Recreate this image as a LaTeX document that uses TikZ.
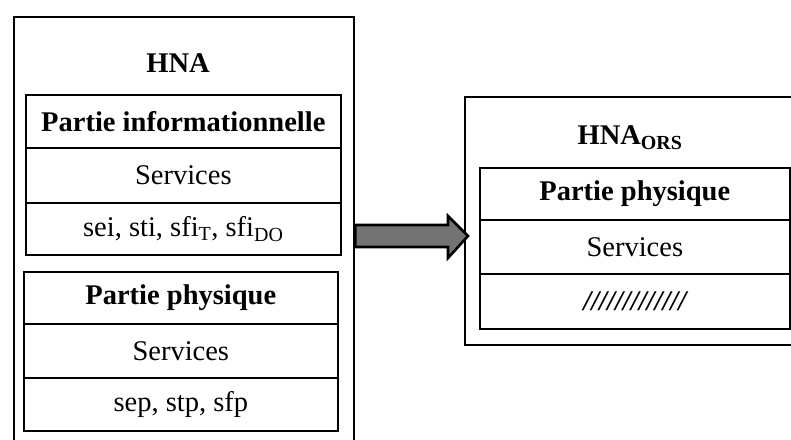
\documentclass[tikz,border=0pt]{standalone}
\usepackage{fontspec}
\setmainfont{Liberation Serif}
\begin{document}
\begin{tikzpicture}[x=1pt,y=-1pt,
  outerbox/.style={draw=black, line width=2.4pt, inner sep=0pt},
  rowbox/.style={draw=black, line width=1.6pt, inner sep=0pt, anchor=north west},
  lbl/.style={inner sep=0pt, font=\fontsize{28.5}{32}\selectfont},
  blbl/.style={lbl, font=\fontsize{28.5}{32}\selectfont\bfseries},
  bigarrow/.style={draw=black, line width=2.6pt, fill=black!55, line join=miter}]
\useasboundingbox (0,0) rectangle (791,439);
\fill[white] (0,0) rectangle (791,439);
% left outer box
\node[outerbox, minimum width=340pt, minimum height=430pt, anchor=north west] (lo) at (13,16) {};
\node[blbl] (hna) at (178,63) {HNA};
% informational part
\node[rowbox, minimum width=315pt, minimum height=53pt] (i1) at (25,94) {};
\node[rowbox, minimum width=315pt, minimum height=55pt] (i2) at (25,147) {};
\node[rowbox, minimum width=315pt, minimum height=52pt] (i3) at (25,202) {};
\node[blbl] at (i1.center) {Partie informationnelle};
\node[lbl] at (i2.center) {Services};
\node[lbl] at (i3.center) {sei, sti, sfi\textsubscript{T}, sfi\textsubscript{DO}};
% physical part
\node[rowbox, minimum width=314pt, minimum height=52pt] (p1) at (23,271) {};
\node[rowbox, minimum width=314pt, minimum height=54pt] (p2) at (23,323) {};
\node[rowbox, minimum width=314pt, minimum height=53pt] (p3) at (23,377) {};
\node[blbl] at (p1.center) {Partie physique};
\node[lbl] at (p2.center) {Services};
\node[lbl] at (p3.center) {sep, stp, sfp};
% right outer box
\node[outerbox, minimum width=340pt, minimum height=248pt, anchor=north west] (ro) at (464,96) {};
\node[blbl] (hnaors) at (630,138) {HNA\textsubscript{ORS}};
\node[rowbox, minimum width=310pt, minimum height=52pt] (r1) at (479,167) {};
\node[rowbox, minimum width=310pt, minimum height=54pt] (r2) at (479,219) {};
\node[rowbox, minimum width=310pt, minimum height=55pt] (r3) at (479,273) {};
\node[blbl] at (r1.center) {Partie physique};
\node[lbl] at (r2.center) {Services};
\node[lbl, font=\fontsize{28.5}{32}\selectfont\bfseries\itshape] at (r3.center) {/////////////};
% arrow from left box to right box
\coordinate (as) at (lo.east |- 0,236);
\coordinate (ae) at (ro.west |- 0,236);
\draw[bigarrow] ([yshift=-11pt]as) -- ([xshift=-16pt,yshift=-11pt]ae) -- ([xshift=-16pt,yshift=-22pt]ae)
  -- ([xshift=4pt]ae) -- ([xshift=-16pt,yshift=20pt]ae) -- ([xshift=-16pt,yshift=11pt]ae)
  -- ([yshift=11pt]as) -- cycle;
\end{tikzpicture}
\end{document}
